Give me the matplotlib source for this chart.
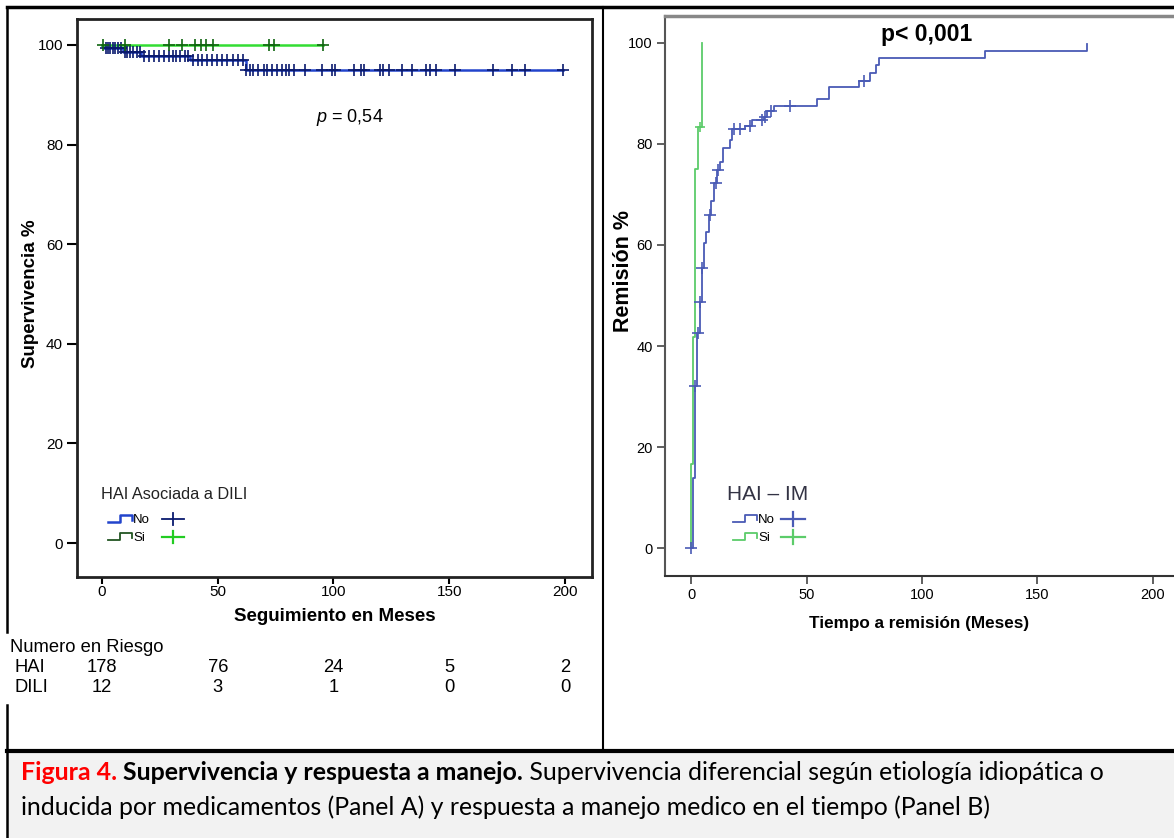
import numpy as np
import matplotlib
matplotlib.use("Agg")
import matplotlib.pyplot as plt
from matplotlib.lines import Line2D
from matplotlib.patches import Rectangle
import matplotlib.transforms as mtransforms

plt.rcParams['font.family'] = ['Liberation Sans', 'DejaVu Sans']
plt.rcParams['mathtext.fontset'] = 'custom'
plt.rcParams['mathtext.it'] = 'Liberation Sans:italic'
plt.rcParams['mathtext.rm'] = 'Liberation Sans'

# ---- Panel A: survival (Kaplan-Meier), months ----
hai_times = [0, 1, 9, 17, 38, 62, 199]
hai_surv = [100, 99.3, 98.6, 97.8, 96.9, 95.0, 95.0]
hai_censor = [1.7, 2.7, 3.6, 4.7, 5.7, 6.9, 8.1, 9.8, 11.0, 12.1, 13.5, 15.0, 16.5,
              18.0, 20.2, 22.4, 24.6, 26.9, 29.1, 30.5, 32.0, 33.5, 35.7, 37.2,
              39.4, 41.6, 43.1, 45.4, 47.6, 49.8, 52.0, 54.2, 56.4, 58.7, 60.9,
              62.4, 63.8, 65.3, 67.6, 69.8, 71.2, 73.5, 75.7, 77.9, 79.4, 80.9,
              83.1, 87.6, 94.9, 99.4, 100.8, 108.9, 111.9, 113.4, 120.1, 121.6,
              123.8, 129.7, 134.1, 140.1, 141.5, 144.5, 152.6, 168.9, 177.0,
              182.9, 199.2]
dili_times = [0, 95.5]
dili_surv = [100, 100]
dili_censor = [0.5, 9.8, 29.0, 34.6, 40.0, 42.7, 45.0, 47.9, 72.3, 74.2, 95.5]

risk_times = [0, 50, 100, 150, 200]
risk_hai = [178, 76, 24, 5, 2]
risk_dili = [12, 3, 1, 0, 0]

# ---- Panel B: cumulative remission, months ----
no_times = [0, 1.0, 1.6, 2.6, 3.7, 4.7, 5.8, 6.6, 7.6, 8.8, 9.8, 11.2, 12.7, 13.7,
            16.7, 17.7, 23.5, 26.4, 31.4, 32.9, 35.8, 54.5, 59.6, 72.6, 77.3,
            80.2, 81.6, 127.4, 171.4]
no_rem = [0, 13.9, 32.0, 42.6, 48.8, 55.4, 60.3, 62.5, 65.9, 68.6, 72.2, 74.9,
          76.5, 79.1, 80.7, 82.9, 83.6, 84.8, 85.4, 86.6, 87.5, 88.9, 91.3, 92.5,
          94.1, 95.6, 96.9, 98.4, 99.8]
no_censor = [0, 1.6, 3.0, 3.7, 4.7, 8.0, 10.8, 11.7, 18.5, 21.3, 25.7, 30.7, 32.2,
             34.6, 42.7, 75.0]
si_times = [0, 0, 0.9, 1.9, 3.0, 4.8]
si_rem = [0, 16.7, 41.7, 75.0, 83.3, 100]
si_censor = [4.0]

W, H = 1174, 838
fig = plt.figure(figsize=(W / 100, H / 100), dpi=100)


def fx(px):
    return px / W


def fy(py):
    return 1 - py / H


def step_at(times, vals, t):
    idx = np.searchsorted(times, t, side='right') - 1
    return np.asarray(vals)[np.clip(idx, 0, len(vals) - 1)]


def fline(xs, ys, **kw):
    fig.add_artist(Line2D([fx(x) for x in xs], [fy(y) for y in ys],
                          transform=fig.transFigure, **kw))


def plus(x, y, hw, hh, color, lw=1.3):
    fline([x - hw, x + hw], [y, y], color=color, lw=lw)
    fline([x, x], [y - hh, y + hh], color=color, lw=lw)


def step_icon(x0, x1, y, color, lw=1.3):
    xm = x0 + (x1 - x0) * 0.5
    fline([x0, xm, xm, x1, x1], [y + 3, y + 3, y - 4, y - 4, y + 1], color=color, lw=lw)


# frame of the figure table
fig.add_artist(Rectangle((fx(8), 0), 1 - fx(8), fy(752), transform=fig.transFigure,
                         facecolor='#f2f2f2', edgecolor='none'))
fline([7, W], [7, 7], color='black', lw=2.5)
fline([7, 7], [7, 632], color='black', lw=1.8)
fline([7, 7], [705, H], color='black', lw=1.8)
fline([603, 603], [7, 750], color='black', lw=1.5)
fline([7, W], [751, 751], color='black', lw=3)

# ================= Panel A =================
axA = fig.add_axes([fx(77), fy(577), fx(592) - fx(77), fy(19) - fy(577)])
axA.plot(hai_times, hai_surv, drawstyle='steps-post', color='#2244cc', lw=1.8, zorder=2)
axA.plot(hai_censor, step_at(hai_times, hai_surv, hai_censor), ls='none', marker='+',
         ms=9, mew=1.2, color='#0a1a6e', zorder=3)
axA.plot(dili_times, dili_surv, color='#33dd33', lw=1.8, zorder=2)
axA.plot(dili_censor, step_at(dili_times, dili_surv, dili_censor), ls='none', marker='+',
         ms=9, mew=1.2, color='#116611', zorder=3)
axA.set_xlim(-10.8, 211.7)
axA.set_ylim(-6.8, 105.2)
axA.set_xticks([0, 50, 100, 150, 200])
axA.set_yticks([0, 20, 40, 60, 80, 100])
axA.tick_params(direction='out', length=7, width=1.5, labelsize=11, color='black', pad=3)
axA.tick_params(axis='x', length=5, pad=1)
for s in axA.spines.values():
    s.set_linewidth(2)
    s.set_color('#222222')
axA.set_xlabel('Seguimiento en Meses', fontsize=13.5, fontweight='bold')
axA.xaxis.set_label_coords(0.501, -0.07)
axA.set_ylabel('Supervivencia %', fontsize=13.5, fontweight='bold')
axA.yaxis.set_label_coords(-0.091, 0.507)
axA.xaxis.label.set_va('center')
axA.yaxis.label.set_va('center')
axA.text(0.53, 0.8226, r'$p$ = 0,54', transform=axA.transAxes, fontsize=13,
         ha='center', va='center')

fig.text(fx(101), fy(494), 'HAI Asociada a DILI', fontsize=11.8, va='center', color='#222222')
step_icon(108, 132, 519, '#2244cc', lw=1.8)
fig.text(fx(133), fy(520), 'No', fontsize=9.5, va='center')
plus(173, 519, 11, 6, '#0a1a6e')
step_icon(108, 132, 537, '#225522', lw=1.3)
fig.text(fx(133), fy(538), 'Si', fontsize=9.5, va='center')
plus(173, 537, 11, 6, '#22cc22', lw=1.6)

# number at risk
tr = mtransforms.blended_transform_factory(axA.transData, fig.transFigure)
fig.text(fx(10), fy(647), 'Numero en Riesgo', fontsize=13.2, va='center')
fig.text(fx(15), fy(667), 'HAI', fontsize=13.2, va='center')
fig.text(fx(15), fy(688), 'DILI', fontsize=13.2, va='center')
for t, a, b in zip(risk_times, risk_hai, risk_dili):
    fig.text(t, fy(667), str(a), transform=tr, fontsize=13.2, ha='center', va='center')
    fig.text(t, fy(688), str(b), transform=tr, fontsize=13.2, ha='center', va='center')

# ================= Panel B =================
axB = fig.add_axes([fx(665), fy(575.5), 1 - fx(665), fy(16) - fy(575.5)])
axB.plot(no_times, no_rem, drawstyle='steps-post', color='#4a5bb5', lw=1.3, zorder=2)
axB.plot(no_censor, step_at(no_times, no_rem, no_censor), ls='none', marker='+',
         ms=9, mew=1.2, color='#4a5bb5', zorder=3)
axB.plot(si_times, si_rem, drawstyle='steps-post', color='#5ccc6a', lw=1.3, zorder=2)
axB.plot(si_censor, step_at(si_times, si_rem, si_censor), ls='none', marker='+',
         ms=7, mew=1.2, color='#5ccc6a', zorder=3)
axB.set_xlim(-11.3, 209.2)
axB.set_ylim(-5.4, 105.3)
axB.set_xticks([0, 50, 100, 150, 200])
axB.set_yticks([0, 20, 40, 60, 80, 100])
axB.tick_params(direction='out', length=6, width=1.2, labelsize=10.5, color='#444444', pad=3)
axB.spines['right'].set_visible(False)
axB.spines['left'].set_color('#555555')
axB.spines['bottom'].set_color('#333333')
axB.spines['left'].set_linewidth(1.5)
axB.spines['bottom'].set_linewidth(1.5)
axB.spines['top'].set_color('#888888')
axB.spines['top'].set_linewidth(2.5)
axB.set_xlabel('Tiempo a remisión (Meses)', fontsize=12.3, fontweight='bold')
axB.xaxis.set_label_coords(0.50, -0.085)
axB.set_ylabel('Remisión %', fontsize=15.5, fontweight='bold')
axB.yaxis.set_label_coords(-0.0825, 0.544)
axB.xaxis.label.set_va('center')
axB.yaxis.label.set_va('center')
fig.text(fx(927), fy(34), 'p< 0,001', fontsize=16.5, fontweight='bold', ha='center', va='center')

fig.text(fx(727), fy(494), 'HAI – IM', fontsize=15, va='center', color='#333344')
step_icon(733, 757, 519, '#4a5bb5')
fig.text(fx(758), fy(520), 'No', fontsize=9.5, va='center')
plus(793, 519, 12, 7, '#4a5bb5', lw=1.6)
step_icon(733, 757, 537, '#5ccc6a')
fig.text(fx(758), fy(538), 'Si', fontsize=9.5, va='center')
plus(793, 537, 12, 7, '#5ccc6a', lw=1.6)

# ================= caption =================
renderer = fig.canvas.get_renderer()


def rich_line(x, y, pieces):
    for txt, kw in pieces:
        t = fig.text(x, y, txt, fontsize=17.9, family=['Lato', 'DejaVu Sans'],
                     va='center', **kw)
        bb = t.get_window_extent(renderer)
        x = bb.x1 / fig.bbox.width


rich_line(fx(21), fy(772), [
    ('Figura 4.', dict(color='#ff0000', fontweight='bold')),
    (' Supervivencia y respuesta a manejo.', dict(color='black', fontweight='bold')),
    (' Supervivencia diferencial según etiología idiopática o', dict(color='black')),
])
rich_line(fx(21), fy(807), [
    ('inducida por medicamentos (Panel A) y respuesta a manejo medico en el tiempo (Panel B)',
     dict(color='black')),
])

fig.savefig('out.png', dpi=100)
